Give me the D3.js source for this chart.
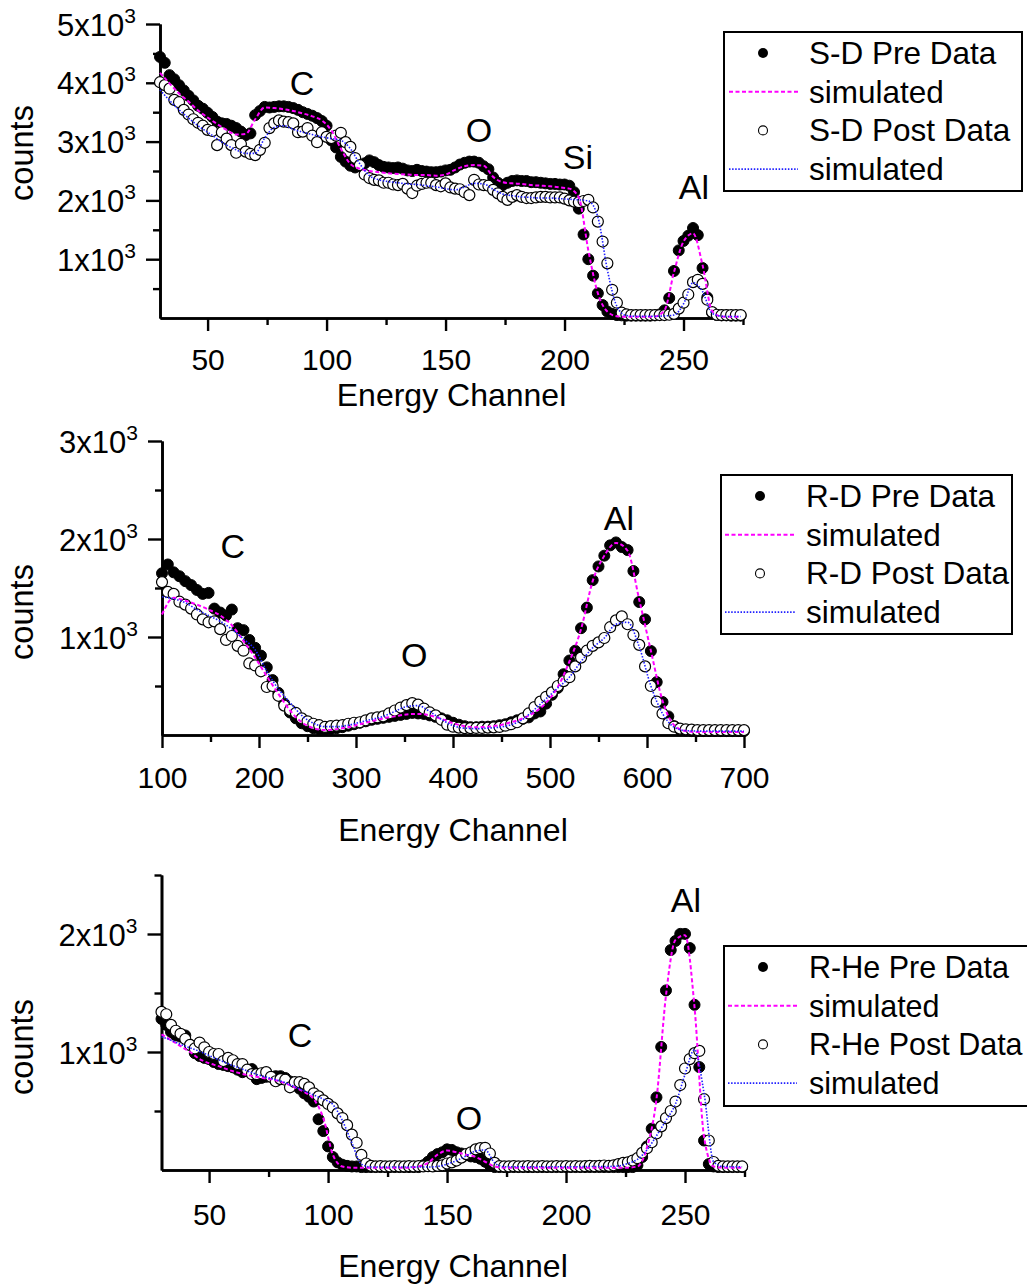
<!DOCTYPE html>
<html>
<head>
<meta charset="utf-8">
<script src="https://cdn.jsdelivr.net/npm/d3@7"></script>
<style>
  body { margin: 0; background: #fff; }
  text { font-family: "Liberation Sans", Arial, Helvetica, sans-serif; fill: #000; }
</style>
</head>
<body>
<svg id="fig" width="1027" height="1285"></svg>
<script>
// ---------- S-D spectra (channels 30..274, step 2) ----------
const sdChannels = d3.range(30, 275, 2);
const sdPre = [
  4440,4340,4130,4060,3960,3870,3780,3700,3610,3560,
  3490,3420,3340,3310,3300,3270,3230,3170,3110,3140,
  3450,3520,3590,3580,3590,3600,3600,3590,3570,3540,
  3500,3470,3440,3400,3350,3270,3020,2900,2740,2660,
  2590,2560,2580,2630,2680,2650,2600,2570,2560,2550,
  2560,2540,2510,2500,2520,2500,2490,2480,2480,2490,
  2510,2520,2560,2610,2640,2660,2660,2640,2580,2530,
  2390,2300,2260,2300,2330,2340,2330,2330,2310,2310,
  2300,2290,2280,2280,2270,2270,2250,2140,1860,1420,
  1000,720,420,220,110,70,50,45,40,40,
  40,40,40,40,45,60,130,340,800,1150,
  1310,1400,1530,1410,850,350,90,50,45,45,
  40,40,40
];
const sdPost = [
  4010,3960,3900,3710,3670,3540,3460,3380,3320,3270,
  3200,3180,2940,3160,3050,2940,2810,2960,2830,2790,
  2770,2860,2980,3230,3310,3360,3340,3330,3310,3160,
  3170,3230,3100,2990,3160,3080,3060,3100,3150,2990,
  2910,2720,2600,2440,2380,2350,2340,2300,2300,2270,
  2260,2280,2200,2125,2250,2280,2300,2300,2260,2240,
  2290,2220,2200,2190,2140,2090,2350,2270,2260,2250,
  2180,2120,2060,2010,2060,2090,2060,2040,2040,2050,
  2060,2060,2050,2050,2050,2030,2000,1980,1970,1990,
  2010,1880,1640,1300,930,480,260,90,60,50,
  50,50,50,50,50,50,50,55,70,160,
  260,400,610,650,580,310,100,55,50,50,
  50,50,50
];
const sdSimChannels = d3.range(30, 275, 4);
const sdPreSim = [
  4170,3990,3820,3680,3530,3410,3300,3200,3120,3130,
  3380,3580,3570,3550,3520,3480,3430,3360,3190,2880,
  2620,2540,2500,2480,2460,2450,2440,2430,2430,2420,
  2440,2520,2580,2600,2590,2400,2310,2290,2280,2260,
  2250,2240,2220,2200,2050,1150,420,110,30,20,
  20,20,25,130,780,1300,1440,900,120,25,
  20,20
];
const sdPostSim = [
  3880,3700,3540,3400,3270,3160,3050,2940,2860,2800,
  2800,3060,3240,3270,3210,3160,3120,3080,3050,3020,
  2880,2620,2420,2350,2320,2300,2280,2270,2250,2230,
  2200,2180,2230,2290,2280,2190,2110,2080,2060,2050,
  2040,2040,2030,2020,2010,1990,1720,820,200,40,
  30,30,30,35,50,240,600,450,80,30,
  25,25
];

// ---------- R-D spectra (channels 100..700, step 6) ----------
const rdChannels = d3.range(100, 701, 6);
const rdPre = [
  1650,1740,1660,1620,1570,1530,1480,1440,1450,1290,
  1250,1220,1280,1090,1070,970,890,810,690,560,
  430,320,230,170,120,90,70,60,55,60,
  70,80,95,110,125,140,155,165,175,185,
  195,205,215,225,220,215,200,185,170,150,
  125,105,90,80,80,85,85,90,100,110,
  130,150,165,180,220,240,320,410,480,620,
  760,860,1090,1300,1580,1720,1830,1935,1965,1918,
  1887,1673,1357,1180,857,540,337,190,90,55,
  45,40,40,40,40,40,40,40,40,40,
  40
];
const rdPost = [
  1560,1460,1440,1360,1330,1290,1230,1180,1150,1160,
  1080,970,1010,910,860,730,710,650,490,500,
  400,300,255,225,170,140,115,100,82,90,
  95,100,115,125,130,150,170,180,190,220,
  250,280,305,325,310,270,230,200,155,105,
  85,75,70,70,72,72,75,78,82,95,
  110,130,170,220,285,340,390,435,500,550,
  590,700,790,860,910,945,990,1100,1170,1210,
  1130,1020,920,700,500,340,220,120,85,65,
  58,55,50,50,50,50,50,50,50,50,
  50
];
const rdSimChannels = d3.range(100, 701, 12);
const rdPreSim = [
  1230,1400,1370,1330,1280,1220,1120,960,790,600,
  420,250,130,70,50,60,80,110,140,170,
  190,210,215,200,165,120,90,80,85,100,
  130,170,230,330,490,750,1080,1570,1830,1960,
  1880,1380,860,350,100,40,30,30,30,30,
  30
];
const rdPostSim = [
  1410,1390,1350,1280,1220,1160,1080,980,870,650,
  470,330,200,120,85,85,100,130,160,190,
  240,290,300,240,160,95,70,65,70,80,
  105,160,260,370,480,590,750,890,990,1130,
  1150,900,500,220,80,45,40,40,40,40,
  40
];

// ---------- R-He spectra (channels 30..274, step 2) ----------
const rheChannels = d3.range(30, 275, 2);
const rhePre = [
  1280,1230,1170,1140,1130,1140,1060,990,966,950,
  940,915,898,890,880,870,850,829,840,855,
  770,780,790,790,795,795,780,750,730,690,
  650,620,580,430,330,200,110,65,45,35,
  30,30,25,25,25,25,25,25,25,25,
  25,25,25,25,25,40,70,110,135,150,
  175,170,150,140,125,115,110,95,70,40,
  25,25,25,25,25,25,25,25,25,25,
  25,25,25,25,25,25,25,25,25,25,
  25,25,25,25,25,25,25,25,25,25,
  40,110,200,350,616,1043,1522,1864,1941,2001,
  2001,1881,1400,872,250,50,30,25,25,25,
  25,25,25
];
const rhePost = [
  1340,1320,1230,1180,1154,1110,1060,1030,1080,1040,
  1000,983,983,923,950,930,898,898,850,812,
  812,820,829,790,752,770,765,701,744,744,
  730,700,650,624,590,560,530,480,440,380,
  300,231,128,55,35,30,32,30,30,32,
  30,30,32,30,32,30,32,30,35,40,
  55,65,80,105,135,150,175,185,188,140,
  60,32,30,30,32,30,30,32,30,30,
  32,30,30,32,30,32,30,32,30,32,
  35,32,35,38,35,40,50,60,65,80,
  100,145,185,235,310,370,440,500,580,720,
  860,940,990,1009,600,250,68,35,30,30,
  30,30,30
];
const rheSimChannels = d3.range(30, 275, 4);
const rhePreSim = [
  1150,1100,1050,1000,940,905,880,850,825,805,
  790,775,760,735,700,660,600,440,130,30,
  20,20,20,20,20,20,20,30,60,130,
  165,150,130,110,70,30,20,20,20,20,
  20,20,20,20,20,20,20,20,20,20,
  30,190,600,1480,1950,1990,1380,280,30,20,
  20,20
];
const rhePostSim = [
  1130,1100,1065,1035,1005,970,935,900,870,840,
  810,787,765,740,705,670,635,600,555,420,
  230,50,25,25,25,25,25,25,25,30,
  50,80,120,160,170,60,28,28,28,28,
  28,28,28,28,28,30,30,30,35,55,
  90,170,290,420,560,810,1020,650,70,30,
  28,28
];

// ---------- axis ticks and annotations ----------
const shortXMajor = [50, 100, 150, 200, 250];
const shortXMinor = [75, 125, 175, 225, 275];
const longXMajor = [100, 200, 300, 400, 500, 600, 700];
const longXMinor = [150, 250, 350, 450, 550, 650];
const sdYMajor = [1000, 2000, 3000, 4000, 5000];
const sdYMinor = [500, 1500, 2500, 3500, 4500];
const rdYMajor = [1000, 2000, 3000];
const rdYMinor = [500, 1500, 2500];
const rheYMajor = [1000, 2000];
const rheYMinor = [500, 1500, 2500];

const sdLegend = ["S-D Pre Data", "simulated", "S-D Post Data", "simulated"];
const rdLegend = ["R-D Pre Data", "simulated", "R-D Post Data", "simulated"];
const rheLegend = ["R-He Pre Data", "simulated", "R-He Post Data", "simulated"];

// element labels: [symbol, channel], placed at the given count level (text baseline)
const sdPeaks = [["C", 89.7], ["O", 164], ["Si", 205.6], ["Al", 254.4]];
const sdPeakCounts = [3790, 2990, 2530, 2020];
const rdPeaks = [["C", 173], ["O", 360], ["Al", 571]];
const rdPeakCounts = [1806, 694, 2092];
const rhePeaks = [["C", 88.2], ["O", 159.2], ["Al", 250.4]];
const rhePeakCounts = [1042, 339, 2186];

const xTitle = "Energy Channel";
const yTitle = "counts";

// ---------- drawing ----------
const svg = d3.select("#fig");
const MAGENTA = "#ff00ff", BLUE = "#2020ff";

function zip(ch, vals) { return ch.map((c, i) => ({ c, v: vals[i] })); }

function drawPanel(cfg) {
  const x = d3.scaleLinear().domain(cfg.xDomain).range(cfg.xRange);
  const y = d3.scaleLinear().domain(cfg.yDomain).range(cfg.yRange);
  const g = svg.append("g");

  // axes
  const axisStyle = sel => {
    sel.selectAll("path.domain").attr("stroke", "#000").attr("stroke-width", 2.6);
    sel.selectAll(".tick line").attr("stroke", "#000").attr("stroke-width", 2.4);
  };
  const xAxisG = g.append("g").attr("transform", `translate(0,${cfg.yRange[0]})`);
  xAxisG.append("g").call(d3.axisBottom(x).tickValues(cfg.xMinor).tickSize(7).tickSizeOuter(0).tickFormat("")).call(axisStyle);
  const xMaj = xAxisG.append("g").call(d3.axisBottom(x).tickValues(cfg.xMajor).tickSize(13).tickSizeOuter(0).tickFormat("")).call(axisStyle);
  xMaj.selectAll(".tick").append("text")
    .attr("y", cfg.xLabelDy).attr("text-anchor", "middle")
    .style("font-size", "30px").text(d => d);

  const yAxisG = g.append("g").attr("transform", `translate(${cfg.xRange[0]},0)`);
  yAxisG.append("g").call(d3.axisLeft(y).tickValues(cfg.yMinor).tickSize(7).tickSizeOuter(0).tickFormat("")).call(axisStyle);
  const yMaj = yAxisG.append("g").call(d3.axisLeft(y).tickValues(cfg.yMajor).tickSize(14).tickSizeOuter(0).tickFormat("")).call(axisStyle);
  const yl = yMaj.selectAll(".tick").append("text")
    .attr("x", -24).attr("y", 11).attr("text-anchor", "end").style("font-size", "31px");
  yl.append("tspan").text(d => `${d / 1000}x10`);
  yl.append("tspan").attr("dy", -13).style("font-size", "21px").text("3");

  // axis titles
  g.append("text").attr("x", (cfg.xRange[0] + cfg.xRange[1]) / 2).attr("y", cfg.xTitleY)
    .attr("text-anchor", "middle").style("font-size", "32px").text(xTitle);
  g.append("text").attr("transform", `translate(33,${cfg.yTitleY}) rotate(-90)`)
    .attr("text-anchor", "middle").style("font-size", "32.5px").text(yTitle);

  // data points: pre (filled), post (open)
  g.append("g").selectAll("circle").data(zip(cfg.ch, cfg.pre)).join("circle")
    .attr("cx", d => x(d.c)).attr("cy", d => y(d.v)).attr("r", 5.5)
    .attr("fill", "#000").attr("stroke", "#000").attr("stroke-width", 1);
  g.append("g").selectAll("circle").data(zip(cfg.ch, cfg.post)).join("circle")
    .attr("cx", d => x(d.c)).attr("cy", d => y(d.v)).attr("r", 5.5)
    .attr("fill", "#fff").attr("stroke", "#000").attr("stroke-width", 1.2);

  // simulated curves
  const line = d3.line().x(d => x(d.c)).y(d => y(d.v)).curve(d3.curveMonotoneX);
  g.append("path").datum(zip(cfg.simCh, cfg.preSim)).attr("d", line)
    .attr("fill", "none").attr("stroke", MAGENTA).attr("stroke-width", 2).attr("stroke-dasharray", "4,2.5");
  g.append("path").datum(zip(cfg.simCh, cfg.postSim)).attr("d", line)
    .attr("fill", "none").attr("stroke", BLUE).attr("stroke-width", 1.6).attr("stroke-dasharray", "1.5,1.6");

  // element labels
  g.append("g").selectAll("text").data(cfg.peaks.map((p, i) => ({ t: p[0], c: p[1], v: cfg.peakCounts[i] })))
    .join("text").attr("x", d => x(d.c)).attr("y", d => y(d.v))
    .attr("text-anchor", "middle").style("font-size", "34px").text(d => d.t);

  // legend
  const L = cfg.legendBox;
  const lg = g.append("g");
  lg.append("rect").attr("x", L.x).attr("y", L.y).attr("width", L.w).attr("height", L.h)
    .attr("fill", "#fff").attr("stroke", "#000").attr("stroke-width", 2);
  cfg.legend.forEach((label, i) => {
    const cy = L.y + 21 + i * 38.7;
    if (i === 0) lg.append("circle").attr("cx", L.sym).attr("cy", cy).attr("r", 5).attr("fill", "#000");
    if (i === 2) lg.append("circle").attr("cx", L.sym).attr("cy", cy).attr("r", 4.5)
      .attr("fill", "#fff").attr("stroke", "#000").attr("stroke-width", 1.1);
    if (i === 1) lg.append("line").attr("x1", L.l1).attr("x2", L.l2).attr("y1", cy).attr("y2", cy)
      .attr("stroke", MAGENTA).attr("stroke-width", 2).attr("stroke-dasharray", "4,2.5");
    if (i === 3) lg.append("line").attr("x1", L.l1).attr("x2", L.l2).attr("y1", cy).attr("y2", cy)
      .attr("stroke", BLUE).attr("stroke-width", 1.6).attr("stroke-dasharray", "1.5,1.6");
    lg.append("text").attr("x", L.tx).attr("y", cy + 11).style("font-size", `${L.fs}px`).text(label);
  });
}

drawPanel({
  xDomain: [30, 275], xRange: [160, 743], yDomain: [0, 5000], yRange: [318, 24],
  xMajor: shortXMajor, xMinor: shortXMinor, yMajor: sdYMajor, yMinor: sdYMinor,
  xLabelDy: 52, xTitleY: 406, yTitleY: 153,
  ch: sdChannels, pre: sdPre, post: sdPost, simCh: sdSimChannels, preSim: sdPreSim, postSim: sdPostSim,
  peaks: sdPeaks, peakCounts: sdPeakCounts, legend: sdLegend,
  legendBox: { x: 724, y: 32, w: 298, h: 159, sym: 763, l1: 729, l2: 798, tx: 809, fs: 31.5 }
});

drawPanel({
  xDomain: [100, 700], xRange: [162, 744], yDomain: [0, 3000], yRange: [735, 441],
  xMajor: longXMajor, xMinor: longXMinor, yMajor: rdYMajor, yMinor: rdYMinor,
  xLabelDy: 53, xTitleY: 841, yTitleY: 612,
  ch: rdChannels, pre: rdPre, post: rdPost, simCh: rdSimChannels, preSim: rdPreSim, postSim: rdPostSim,
  peaks: rdPeaks, peakCounts: rdPeakCounts, legend: rdLegend,
  legendBox: { x: 721, y: 475, w: 291, h: 159, sym: 760, l1: 725, l2: 795, tx: 806, fs: 31.5 }
});

drawPanel({
  xDomain: [30, 275], xRange: [161.5, 744.5], yDomain: [0, 2500], yRange: [1170, 875],
  xMajor: shortXMajor, xMinor: shortXMinor, yMajor: rheYMajor, yMinor: rheYMinor,
  xLabelDy: 55, xTitleY: 1277, yTitleY: 1047,
  ch: rheChannels, pre: rhePre, post: rhePost, simCh: rheSimChannels, preSim: rhePreSim, postSim: rhePostSim,
  peaks: rhePeaks, peakCounts: rhePeakCounts, legend: rheLegend,
  legendBox: { x: 724, y: 946, w: 330, h: 160, sym: 763, l1: 728, l2: 797, tx: 809, fs: 30.5 }
});
</script>
</body>
</html>
